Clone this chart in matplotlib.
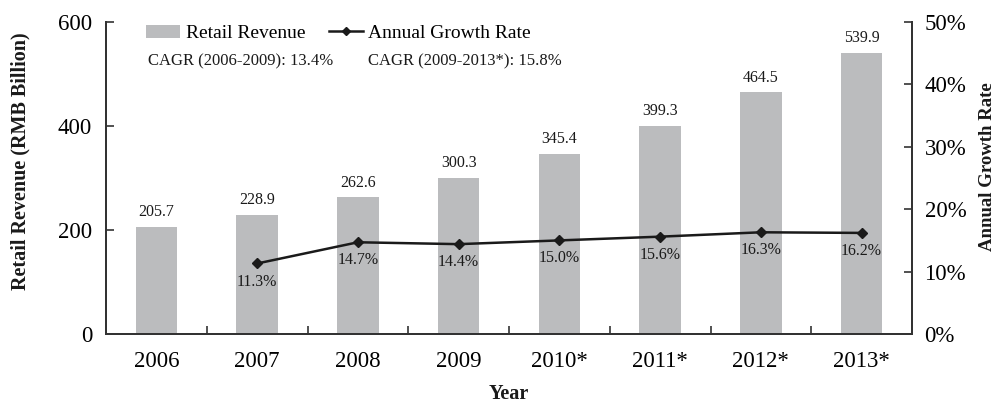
import matplotlib
matplotlib.use("Agg")
import matplotlib.pyplot as plt
from matplotlib.patches import Patch
from matplotlib.lines import Line2D
import numpy as np

years = ["2006", "2007", "2008", "2009", "2010*", "2011*", "2012*", "2013*"]
revenue = [205.7, 228.9, 262.6, 300.3, 345.4, 399.3, 464.5, 539.9]
growth_years = ["2007", "2008", "2009", "2010*", "2011*", "2012*", "2013*"]
growth = [11.3, 14.7, 14.4, 15.0, 15.6, 16.3, 16.2]
left_ticks = [0, 200, 400, 600]
right_ticks = [0, 10, 20, 30, 40, 50]
cagr_texts = ["CAGR (2006-2009): 13.4%", "CAGR (2009-2013*): 15.8%"]

plt.rcParams["font.family"] = ["Liberation Serif", "DejaVu Serif"]
bar_color = "#bbbcbe"
ink = "#1a1a1a"
spine_color = "#333333"

fig = plt.figure(figsize=(9.97, 4.05), dpi=100)
ax = fig.add_axes([106 / 997, 71 / 405, 806 / 997, 312 / 405])
ax2 = ax.twinx()

x = np.arange(len(years))
ax.bar(x, revenue, width=0.41, color=bar_color, zorder=1)
for xi, v in zip(x, revenue):
    ax.annotate(f"{v:.1f}", (xi, v), xytext=(0, 5), textcoords="offset points",
                ha="center", va="bottom", fontsize=11.5, color=ink)

gx = [years.index(y) for y in growth_years]
ax2.plot(gx, growth, color=ink, lw=1.8, marker="D", ms=5.5, zorder=3)
for xi, v in zip(gx, growth):
    ax2.annotate(f"{v:.1f}%", (xi, v), xytext=(0, -13), textcoords="offset points",
                 ha="center", va="center", fontsize=11.5, color=ink)

ax.set_xlim(-0.5, len(years) - 0.5)
ax.set_ylim(0, 600)
ax2.set_ylim(0, 50)

ax.set_xticks(x)
ax.set_xticklabels(years, fontsize=16.5)
ax.set_xticks(np.arange(0.5, len(years) - 1, 1), minor=True)
ax.tick_params(axis="x", which="major", length=0, pad=12)
ax.tick_params(axis="x", which="minor", direction="in", length=6, width=1.2, color=spine_color)

ax.set_yticks(left_ticks)
ax.tick_params(axis="y", direction="in", length=6, width=1.2, labelsize=16.5, pad=10, color=spine_color)
ax2.set_yticks(right_ticks)
ax2.set_yticklabels([f"{t}%" for t in right_ticks])
ax2.tick_params(axis="y", direction="in", length=6, width=1.2, labelsize=16.5, pad=9, color=spine_color)

for a in (ax, ax2):
    a.spines["top"].set_visible(False)
    for s in ("left", "right", "bottom"):
        a.spines[s].set_linewidth(1.4)
        a.spines[s].set_color(spine_color)

fig.text(509 / 997, 1 - 394 / 405, "Year", fontsize=14.5, fontweight="bold",
         ha="center", va="center", color=ink)
fig.text(20 / 997, 1 - 161 / 405, "Retail Revenue (RMB Billion)", fontsize=14.5,
         fontweight="bold", rotation=90, ha="center", va="center", color=ink)
fig.text(987 / 997, 1 - 167 / 405, "Annual Growth Rate", fontsize=13.5,
         fontweight="bold", rotation=90, ha="center", va="center", color=ink)

handles = [Patch(facecolor=bar_color, edgecolor="none"),
           Line2D([0], [0], color=ink, lw=1.8, marker="D", ms=4)]
ax.legend(handles, ["Retail Revenue", "Annual Growth Rate"], ncol=2, frameon=False,
          loc="upper left", bbox_to_anchor=(0.035, 1.029), fontsize=14,
          handlelength=1.75, handletextpad=0.3, columnspacing=1.2,
          borderaxespad=0.2)

fig.text(148 / 997, 1 - 61 / 405, cagr_texts[0], fontsize=12, va="center", ha="left", color=ink)
fig.text(368 / 997, 1 - 61 / 405, cagr_texts[1], fontsize=12, va="center", ha="left", color=ink)

fig.savefig("out.png", dpi=100)
